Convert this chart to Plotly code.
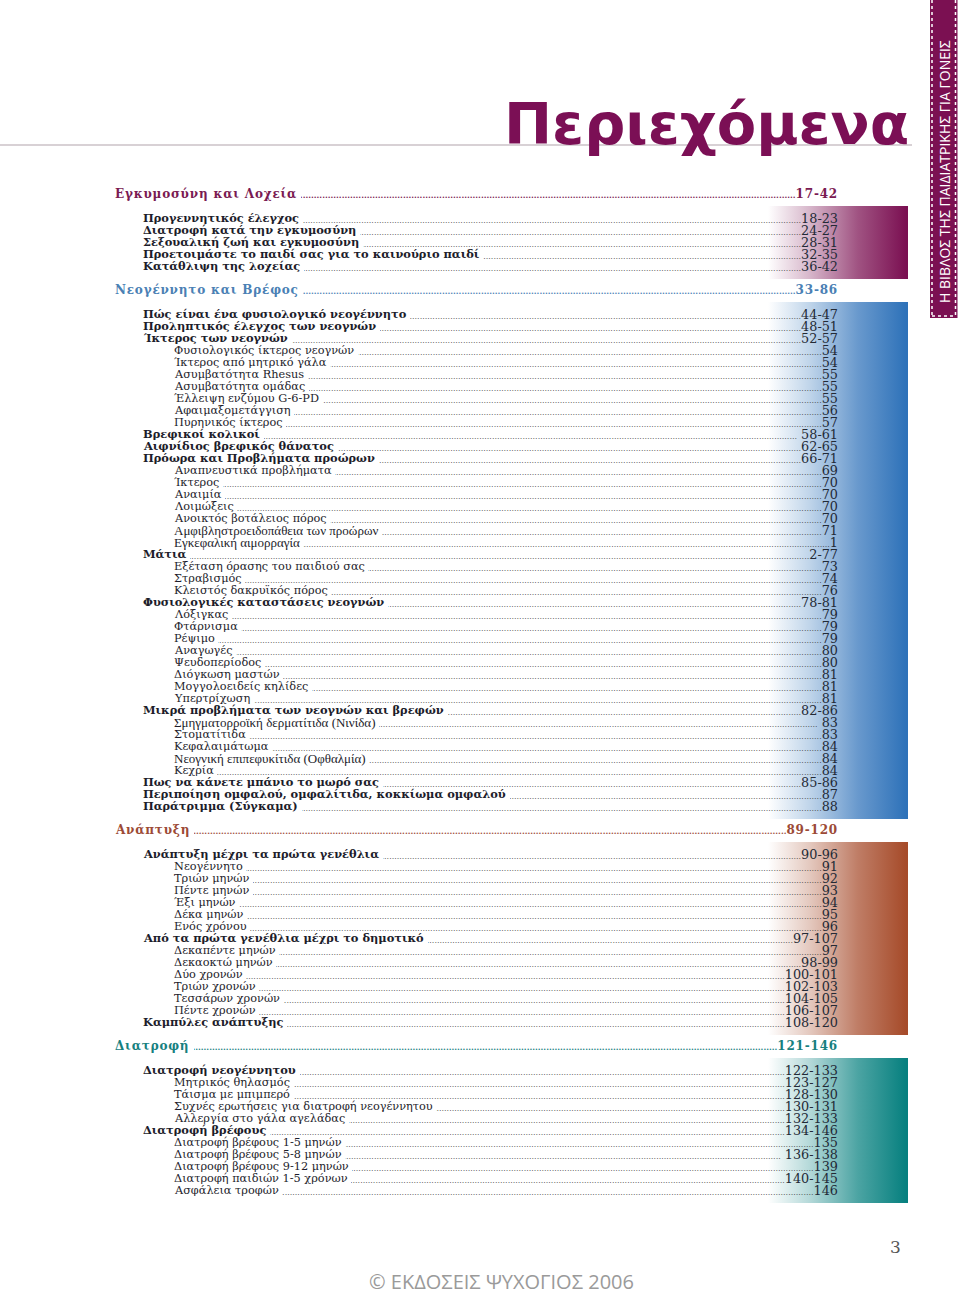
import plotly.graph_objects as go

# ---------------- data ----------------
SECTION_NAMES = ["Εγκυμοσύνη και Λοχεία", "Νεογέννητο και Βρέφος", "Ανάπτυξη", "Διατροφή"]
SECTION_PAGES = ["17-42", "33-86", "89-120", "121-146"]

PREG_TITLES = [
    "Προγεννητικός έλεγχος",
    "Διατροφή κατά την εγκυμοσύνη",
    "Σεξουαλική ζωή και εγκυμοσύνη",
    "Προετοιμάστε το παιδί σας για το καινούριο παιδί",
    "Κατάθλιψη της λοχείας",
]
PREG_PAGES = ["18-23", "24-27", "28-31", "32-35", "36-42"]
PREG_LEVELS = [1, 1, 1, 1, 1]

NEWBORN_TITLES = [
    "Πώς είναι ένα φυσιολογικό νεογέννητο",
    "Προληπτικός έλεγχος των νεογνών",
    "Ίκτερος των νεογνών",
    "Φυσιολογικός ίκτερος νεογνών",
    "Ίκτερος από μητρικό γάλα",
    "Ασυμβατότητα Rhesus",
    "Ασυμβατότητα ομάδας",
    "Έλλειψη ενζύμου G-6-PD",
    "Αφαιμαξομετάγγιση",
    "Πυρηνικός ίκτερος",
    "Βρεφικοί κολικοί",
    "Αιφνίδιος βρεφικός θάνατος",
    "Πρόωρα και Προβλήματα προώρων",
    "Αναπνευστικά προβλήματα",
    "Ίκτερος",
    "Αναιμία",
    "Λοιμώξεις",
    "Ανοικτός βοτάλειος πόρος",
    "Αμφιβληστροειδοπάθεια των προώρων",
    "Εγκεφαλική αιμορραγία",
    "Μάτια",
    "Εξέταση όρασης του παιδιού σας",
    "Στραβισμός",
    "Κλειστός δακρυϊκός πόρος",
    "Φυσιολογικές καταστάσεις νεογνών",
    "Λόξιγκας",
    "Φτάρνισμα",
    "Ρέψιμο",
    "Αναγωγές",
    "Ψευδοπερίοδος",
    "Διόγκωση μαστών",
    "Μογγολοειδείς κηλίδες",
    "Υπερτρίχωση",
    "Μικρά προβλήματα των νεογνών και βρεφών",
    "Σμηγματορροϊκή δερματίτιδα (Νινίδα)",
    "Στοματίτιδα",
    "Κεφαλαιμάτωμα",
    "Νεογνική επιπεφυκίτιδα (Οφθαλμία)",
    "Κεχρία",
    "Πως να κάνετε μπάνιο το μωρό σας",
    "Περιποίηση ομφαλού, ομφαλίτιδα, κοκκίωμα ομφαλού",
    "Παράτριμμα (Σύγκαμα)",
]
NEWBORN_PAGES = [
    "44-47", "48-51", "52-57", "54", "54", "55", "55", "55", "56", "57",
    " 58-61", "62-65", "66-71", "69", "70", "70", "70", "70", "71", "1",
    "2-77", "73", "74", "76", "78-81", "79", "79", "79", "80", "80",
    "81", "81", "81", "82-86", " 83", "83", "84", "84", "84", "85-86",
    "87", "88",
]
NEWBORN_LEVELS = [
    1, 1, 1, 2, 2, 2, 2, 2, 2, 2,
    1, 1, 1, 2, 2, 2, 2, 2, 2, 2,
    1, 2, 2, 2, 1, 2, 2, 2, 2, 2,
    2, 2, 2, 1, 2, 2, 2, 2, 2, 1,
    1, 1,
]

GROWTH_TITLES = [
    "Ανάπτυξη μέχρι τα πρώτα γενέθλια",
    "Νεογέννητο",
    "Τριών μηνών",
    "Πέντε μηνών",
    "Έξι μηνών",
    "Δέκα μηνών",
    "Ενός χρόνου",
    "Από τα πρώτα γενέθλια μέχρι το δημοτικό",
    "Δεκαπέντε μηνών",
    "Δεκαοκτώ μηνών",
    "Δύο χρονών",
    "Τριών χρονών",
    "Τεσσάρων χρονών",
    "Πέντε χρονών",
    "Καμπύλες ανάπτυξης",
]
GROWTH_PAGES = ["90-96", "91", "92", "93", "94", "95", "96", "97-107", "97", "98-99",
                "100-101", "102-103", "104-105", "106-107", "108-120"]
GROWTH_LEVELS = [1, 2, 2, 2, 2, 2, 2, 1, 2, 2, 2, 2, 2, 2, 1]

FOOD_TITLES = [
    "Διατροφή νεογέννητου",
    "Μητρικός θηλασμός",
    "Τάισμα με μπιμπερό",
    "Συχνές ερωτήσεις για διατροφή νεογέννητου",
    "Αλλεργία στο γάλα αγελάδας",
    "Διατροφή βρέφους",
    "Διατροφή βρέφους 1-5 μηνών",
    "Διατροφή βρέφους 5-8 μηνών",
    "Διατροφή βρέφους 9-12 μηνών",
    "Διατροφή παιδιών 1-5 χρόνων",
    "Ασφάλεια τροφών",
]
FOOD_PAGES = ["122-133", "123-127", "128-130", "130-131", "132-133", "134-146",
              "135", " 136-138", "139", "140-145", "146"]
FOOD_LEVELS = [1, 2, 2, 2, 2, 1, 2, 2, 2, 2, 2]

SECTION_ENTRIES = [
    (PREG_TITLES, PREG_PAGES, PREG_LEVELS),
    (NEWBORN_TITLES, NEWBORN_PAGES, NEWBORN_LEVELS),
    (GROWTH_TITLES, GROWTH_PAGES, GROWTH_LEVELS),
    (FOOD_TITLES, FOOD_PAGES, FOOD_LEVELS),
]

PAGE_TITLE = "Περιεχόμενα"
SIDE_TEXT = "Η ΒΙΒΛΟΣ ΤΗΣ ΠΑΙΔΙΑΤΡΙΚΗΣ ΓΙΑ ΓΟΝΕΙΣ"
FOOTER_TEXT = "© ΕΚΔΟΣΕΙΣ ΨΥΧΟΓΙΟΣ 2006"
PAGE_NUMBER = "3"

# ---------------- style ----------------
W, H = 960, 1291
HEADER_COLORS = ["#7a1a52", "#4a80b4", "#9c4a36", "#17807f"]
BAND_RGB = [(123, 16, 82), (46, 114, 185), (166, 75, 42), (7, 128, 127)]
TEXT_COLOR = "#1d1d2b"
NUM_COLOR = "#232a36"
SERIF = "DejaVu Serif"
ALT_SERIF = "Liberation Serif"
ALT_FONT_TITLES = {"Αμφιβληστροειδοπάθεια των προώρων", "Εγκεφαλική αιμορραγία",
                   "Σμηγματορροϊκή δερματίτιδα (Νινίδα)", "Νεογνική επιπεφυκίτιδα (Οφθαλμία)"}
LEVEL_SIZE = {1: 11.4, 2: 11.3}
NUM_SIZE = 12.8
X_HEADER, X_LEVEL = 115, {1: 143, 2: 174}
X_RIGHT = 838
FIRST_HEADER_Y = 194
ROW = 12
NBSP = "\u00a0"
DOTS = "." * 340
HEAD_SPACING = "letter-spacing:0.8px"


def mix(rgb, a):
    r, g, b = (round(255 + (c - 255) * a) for c in rgb)
    return f"rgb({r},{g},{b})"


leaders, masks, labels = [], [], []


def ann(x, y, text, size, color, family, weight="normal", xanchor="left",
        align="left", width=None, bg=None):
    d = dict(x=x, y=y, xref="x", yref="y", text=text, showarrow=False,
             xanchor=xanchor, yanchor="middle", align=align,
             font=dict(size=size, color=color, family=family, weight=weight),
             borderpad=0, borderwidth=0)
    if width is not None:
        d["width"] = width
    if bg is not None:
        d["bgcolor"] = bg
    return d


def add_row(x, y, title, page, size, color, numcolor, family, weight, dotcolor, spacing=None):
    page_txt = page.replace(" ", NBSP)
    if spacing:
        title_txt = f"<span style='{spacing}'>{title}</span>"
        page_txt = f"<span style='{spacing}'>{page_txt}</span>"
    else:
        title_txt = title
    num_size = size if spacing else NUM_SIZE
    leaders.append(ann(X_RIGHT, y,
                       f"<span style='font-size:8px;color:{dotcolor}'>{DOTS}</span>{page_txt}",
                       num_size, numcolor, SERIF, weight=weight if spacing else "normal",
                       xanchor="right", align="right", width=X_RIGHT - x))
    masks.append(ann(x, y, title_txt + NBSP, size, "white", family, weight=weight, bg="white"))
    labels.append(ann(x, y, title_txt, size, color, family, weight=weight))


fig = go.Figure()

y = FIRST_HEADER_Y
for s, (titles, pages, levels) in enumerate(SECTION_ENTRIES):
    add_row(X_HEADER, y, SECTION_NAMES[s], SECTION_PAGES[s], 12, HEADER_COLORS[s],
            HEADER_COLORS[s], SERIF, "bold", HEADER_COLORS[s], spacing=HEAD_SPACING)
    first = y + 2 * ROW
    last = first + ROW * (len(titles) - 1)
    rgb = BAND_RGB[s]
    fig.add_trace(go.Scatter(
        x=[745, 908, 908, 745, 745], y=[first - ROW, first - ROW, last + 13, last + 13, first - ROW],
        mode="lines", fill="toself", line=dict(width=0),
        fillgradient=dict(type="horizontal", start=768, stop=906,
                          colorscale=[[0, "rgb(255,255,255)"], [0.3, mix(rgb, 0.3)],
                                      [0.65, mix(rgb, 0.72)], [1, mix(rgb, 1.0)]]),
        hoverinfo="skip", showlegend=False))
    for i, (t, p, lv) in enumerate(zip(titles, pages, levels)):
        yy = first + ROW * i
        alt = t in ALT_FONT_TITLES
        add_row(X_LEVEL[lv], yy, t, p, 13 if alt else LEVEL_SIZE[lv], TEXT_COLOR, NUM_COLOR,
                ALT_SERIF if alt else SERIF, "bold" if lv == 1 else "normal", "#333333")
    y = last + 2 * ROW

# title rule
fig.add_trace(go.Scatter(x=[0, 912], y=[145, 145], mode="lines",
                         line=dict(color="#cbc2c7", width=1.5), hoverinfo="skip", showlegend=False))

# side strip perforation
for xs, ys in [([932, 932], [0, 316]), ([955.5, 955.5], [0, 316]), ([932, 955.5], [316, 316])]:
    fig.add_trace(go.Scatter(x=xs, y=ys, mode="lines",
                             line=dict(color="white", width=1.5, dash="dot"),
                             hoverinfo="skip", showlegend=False))

extras = [
    dict(x=911, y=124, xref="x", yref="y", text=PAGE_TITLE, showarrow=False,
         xanchor="right", yanchor="middle",
         font=dict(size=57.5, color="#7b0f55", family="DejaVu Sans", weight="bold")),
    dict(x=944, y=172, xref="x", yref="y", text=SIDE_TEXT, showarrow=False, textangle=-90,
         xanchor="center", yanchor="middle",
         font=dict(size=14, color="white", family="Open Sans")),
    dict(x=501, y=1281, xref="x", yref="y", text=FOOTER_TEXT, showarrow=False,
         xanchor="center", yanchor="middle",
         font=dict(size=20, color="#9a9a9a", family="Open Sans")),
    dict(x=895, y=1247, xref="x", yref="y", text=PAGE_NUMBER, showarrow=False,
         xanchor="center", yanchor="middle",
         font=dict(size=17, color="#555555", family=SERIF)),
]

fig.update_layout(
    width=W, height=H, margin=dict(l=0, r=0, t=0, b=0),
    paper_bgcolor="white", plot_bgcolor="white",
    xaxis=dict(range=[0, W], visible=False, fixedrange=True),
    yaxis=dict(range=[H, 0], visible=False, fixedrange=True),
    showlegend=False,
    shapes=[dict(type="rect", xref="x", yref="y", x0=930, x1=957.5, y0=-2, y1=318,
                 fillcolor="#7b1052", line=dict(width=0), layer="below")],
    annotations=leaders + masks + labels + extras,
)

fig.write_html("out.html", config={"displayModeBar": False},
               post_script="document.body.style.margin='0';document.body.style.overflow='hidden';")
